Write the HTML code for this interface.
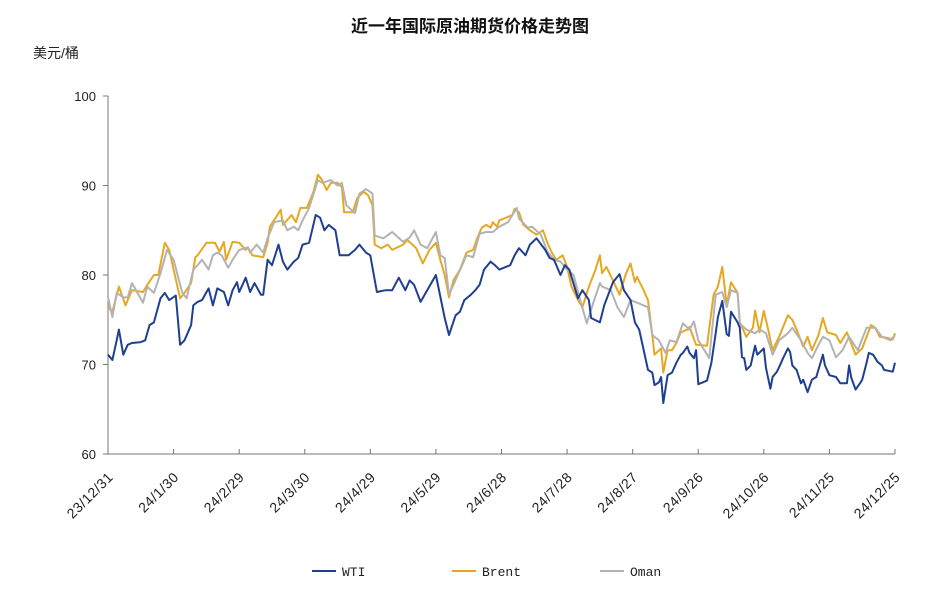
<!DOCTYPE html>
<html><head><meta charset="utf-8">
<style>
html,body{margin:0;padding:0;background:#fff;width:939px;height:602px;overflow:hidden}
svg{display:block}
text{font-family:"Liberation Sans","Noto Sans CJK SC",sans-serif}
</style></head>
<body>
<svg id="chart" width="939" height="602">
<text x="470" y="32" text-anchor="middle" font-size="17" font-weight="bold" fill="#111">近一年国际原油期货价格走势图</text>
<text x="33" y="58" font-size="14" fill="#222">美元/桶</text>
<g id="axes"></g>
<g id="series"></g>
<g id="legend"></g>
</svg>
<script>
const yTicks=[60,70,80,90,100];
const xTickDays=[0,30,60,90,120,150,180,210,240,270,300,330,360];
const xTickLabels=["23/12/31","24/1/30","24/2/29","24/3/30","24/4/29","24/5/29","24/6/28","24/7/28","24/8/27","24/9/26","24/10/26","24/11/25","24/12/25"];
const wtiDays=[0,2,4,5,7,9,11,15,17,19,21,24,26,28,31,33,35,38,39,41,43,46,48,50,53,55,57,59,60,63,65,67,70,71,73,75,78,80,82,85,87,89,92,95,97,99,101,104,106,110,113,115,118,120,123,127,130,133,136,138,140,143,146,150,154,156,159,161,163,166,168,170,172,175,177,179,184,186,188,191,193,196,200,202,204,207,209,211,215,217,220,221,225,227,231,234,236,239,241,243,247,249,250,252,253,254,256,258,260,262,263,265,266,268,269,270,272,274,276,278,279,281,283,284,285,286,288,289,290,291,292,294,296,297,300,301,303,304,306,307,309,311,312,313,315,317,318,320,322,324,327,328,330,333,335,338,339,340,342,344,345,347,348,350,352,354,355,359,360];
const wtiValues=[71.1,70.5,72.7,73.9,71.1,72.2,72.4,72.5,72.7,74.4,74.7,77.4,78.0,77.2,77.7,72.2,72.7,74.4,76.6,77.0,77.2,78.5,76.6,78.5,78.1,76.6,78.3,79.2,78.1,79.7,78.1,79.1,77.8,77.8,81.7,81.1,83.4,81.5,80.6,81.5,81.9,83.4,83.6,86.7,86.4,85.0,85.6,85.0,82.2,82.2,82.8,83.4,82.5,82.2,78.1,78.3,78.3,79.7,78.3,79.4,78.9,77.0,78.3,80.0,75.2,73.3,75.5,75.9,77.2,77.8,78.3,78.9,80.6,81.5,81.1,80.6,81.1,82.2,83.0,82.2,83.4,84.1,82.8,81.9,81.7,80.0,81.1,80.6,77.4,78.3,77.2,75.2,74.7,76.6,79.2,80.1,78.3,77.2,74.7,73.9,69.4,69.1,67.7,68.0,68.6,65.7,68.8,69.1,70.2,71.1,71.3,72.0,71.3,70.7,71.6,67.8,68.0,68.2,70.2,73.5,75.3,77.1,73.4,73.2,75.9,75.5,74.7,74.1,70.8,70.7,69.4,69.9,72.1,71.1,71.8,69.6,67.3,68.6,69.2,69.7,70.8,71.8,71.4,69.9,69.4,67.9,68.3,66.9,68.3,68.6,71.1,69.9,68.8,68.6,67.9,67.9,69.9,68.5,67.2,67.9,68.3,70.2,71.3,71.1,70.3,69.9,69.4,69.2,70.2];
const brentDays=[0,2,5,8,9,11,16,18,21,23,26,28,33,35,38,40,41,45,49,51,53,54,57,60,63,64,66,71,73,74,77,79,80,84,86,88,91,94,96,98,100,102,105,107,108,112,114,117,119,121,122,125,128,130,135,137,141,144,147,150,152,154,156,158,161,164,167,169,171,173,175,176,178,179,183,185,186,188,190,193,196,199,201,203,205,208,210,212,215,217,220,223,225,226,228,231,234,237,239,241,242,245,247,249,250,253,254,256,258,260,262,265,266,269,274,277,279,281,283,285,288,289,292,295,296,298,300,302,304,307,311,313,315,318,320,322,325,327,329,333,335,338,342,345,349,351,353,356,359,360];
const brentValues=[76.4,75.9,78.7,76.6,77.2,78.3,78.1,78.9,80.0,80.0,83.6,82.8,77.4,78.0,79.1,82.0,82.2,83.6,83.6,82.6,83.7,81.7,83.7,83.6,82.8,83.1,82.2,82.0,83.6,85.4,86.5,87.3,85.6,86.7,85.9,87.5,87.5,89.3,91.2,90.6,89.5,90.3,90.3,89.8,87.0,87.0,88.6,89.3,88.9,87.8,83.4,83.0,83.4,82.8,83.4,83.9,83.0,81.3,82.8,83.6,81.7,80.0,77.5,79.4,80.6,82.5,82.8,84.2,85.3,85.6,85.3,85.9,85.4,86.1,86.5,86.7,87.4,87.0,85.6,85.0,84.5,85.0,83.6,82.5,81.7,82.2,80.9,78.7,77.2,76.4,78.7,80.6,82.2,80.2,80.9,79.4,77.8,80.2,81.3,79.2,79.8,78.3,77.2,73.3,71.1,71.8,69.1,71.6,71.6,72.4,73.6,73.9,74.2,72.2,72.1,77.8,78.7,80.9,76.6,79.2,78.0,74.7,73.1,74.1,76.0,73.6,76.0,73.9,71.6,73.1,75.5,75.0,73.9,72.0,73.1,71.6,73.3,75.2,73.6,73.3,72.4,73.6,71.1,71.8,74.4,74.1,73.1,73.0,72.8,73.5];
const omanDays=[0,2,4,7,9,11,16,18,21,24,27,30,34,36,39,41,43,46,48,50,52,55,57,60,64,65,68,71,73,76,80,82,85,87,89,92,96,98,102,105,107,109,113,115,118,121,122,126,130,135,138,140,143,146,150,152,154,156,160,164,167,170,173,176,179,183,185,187,188,192,194,198,201,204,207,210,213,216,219,222,225,226,230,233,236,239,242,247,249,252,255,257,260,263,266,268,270,275,278,281,283,285,288,289,292,296,298,301,304,307,311,313,317,320,322,325,327,330,333,336,339,343,347,351,354,358,360];
const omanValues=[77.5,75.3,78.0,77.5,77.5,79.1,76.9,78.7,78.0,80.2,82.8,81.7,78.0,77.4,80.6,81.1,81.7,80.6,82.2,82.5,82.2,80.8,81.7,82.8,83.1,82.5,83.4,82.5,84.1,85.9,86.1,85.0,85.4,85.0,86.1,87.5,90.6,90.3,90.6,90.0,90.3,87.8,86.9,89.1,89.6,89.1,84.4,84.1,84.8,83.7,84.2,85.0,83.4,83.0,84.8,82.2,81.9,77.8,80.0,82.2,82.0,84.6,84.8,84.8,85.4,85.9,86.7,87.5,86.3,85.3,85.4,84.5,82.6,81.7,81.5,80.6,80.0,77.2,74.6,76.9,79.1,78.7,78.3,76.4,75.3,77.2,76.9,76.4,73.3,72.7,71.3,72.7,72.5,74.6,73.9,74.8,72.7,70.7,77.8,78.1,76.4,78.3,78.0,74.6,73.9,73.5,73.9,73.5,71.1,72.7,73.5,74.1,72.7,71.3,70.7,72.2,73.1,72.7,70.8,71.6,73.1,71.6,74.1,74.1,73.1,72.7,73.3];

const NS="http://www.w3.org/2000/svg";
const X0=108,X1=895,Y0=454,Y1=96;
function xScale(d){return X0+(d-0)/(360-0)*(X1-X0);}
function yScale(v){return Y0-(v-60)/(100-60)*(Y0-Y1);}
function mk(tag,attrs,parent){const e=document.createElementNS(NS,tag);for(const k in attrs)e.setAttribute(k,attrs[k]);parent.appendChild(e);return e;}
const axes=document.getElementById('axes');
let yl=mk('line',{x1:X0,y1:Y1,x2:X0,y2:Y0,stroke:'#777','stroke-width':1},axes);


let xl=mk('line',{x1:X0,y1:Y0,x2:X1,y2:Y0,stroke:'#777','stroke-width':1},axes);


yTicks.forEach(v=>{
  const y=yScale(v);
  let t=mk('line',{x1:X0-5,y1:y,x2:X0,y2:y,stroke:'#777'},axes);
  
  
  let tx=mk('text',{x:X0-12,y:y+5,'text-anchor':'end','font-size':13,fill:'#222'},axes);
  tx.textContent=v;
  
  
});
xTickDays.forEach((d,i)=>{
  const x=xScale(d);
  let t=mk('line',{x1:x,y1:Y0-5,x2:x,y2:Y0,stroke:'#777'},axes);
  
  
  let tx=mk('text',{x:x+6,y:Y0+24,'text-anchor':'end','font-size':14,'letter-spacing':'0.5',fill:'#222',transform:`rotate(-45 ${x+6} ${Y0+24})`},axes);
  tx.textContent=xTickLabels[i];
  
  
});
const ser=document.getElementById('series');
function line(days,vals,color,name){
  const d=days.map((dd,i)=>(i?'L':'M')+xScale(dd).toFixed(1)+','+yScale(vals[i]).toFixed(1)).join('');
  let p=mk('path',{d:d,fill:'none',stroke:color,'stroke-width':2,'stroke-linejoin':'round'},ser);
  
  
}
line(brentDays,brentValues,'#e6a823','brent-line');
line(omanDays,omanValues,'#b3b3b3','oman-line');
line(wtiDays,wtiValues,'#1f3f8f','wti-line');
const lg=document.getElementById('legend');
const leg=[['WTI','#1f3f8f',312],['Brent','#e6a823',452],['Oman','#b3b3b3',600]];
leg.forEach(l=>{
  let g=mk('g',{},lg);
  
  
  mk('line',{x1:l[2],y1:571,x2:l[2]+24,y2:571,stroke:l[1],'stroke-width':2},g);
  let t=mk('text',{x:l[2]+30,y:576,'font-size':13,fill:'#222',style:'font-family:"Liberation Mono",monospace'},g);
  t.textContent=l[0];
});
</script>
</body></html>
